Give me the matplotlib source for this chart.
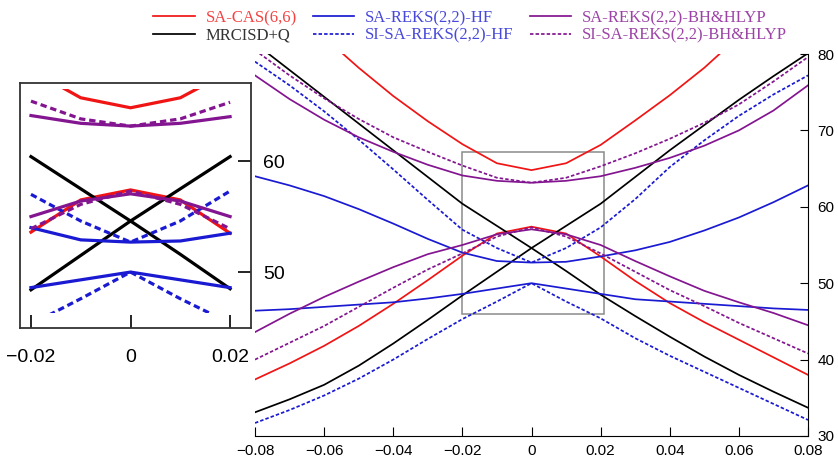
import numpy as np
import matplotlib.pyplot as plt
from matplotlib.patches import Rectangle

plt.rcParams['font.family'] = ['Liberation Sans', 'DejaVu Sans']

# displacement grid
x = [-0.08, -0.07, -0.06, -0.05, -0.04, -0.03, -0.02, -0.01, 0.0,
     0.01, 0.02, 0.03, 0.04, 0.05, 0.06, 0.07, 0.08]

# SA-CAS(6,6)
cas_s1 = [91.0, 86.3, 82.2, 78.2, 74.5, 71.2, 68.2, 65.7, 64.8, 65.7, 68.1, 71.3, 74.6, 78.2, 82.3, 86.5, 91.0]
cas_s0 = [37.4, 39.5, 41.8, 44.4, 47.3, 50.4, 53.6, 56.5, 57.4, 56.5, 53.5, 50.3, 47.4, 44.9, 42.6, 40.3, 38.0]
# MRCISD+Q
mrci_a = [81.4, 77.9, 74.4, 70.9, 67.4, 63.9, 60.4, 57.5, 54.6, 51.6, 48.5, 45.7, 43.0, 40.4, 38.0, 35.8, 33.7]
mrci_b = [33.1, 34.8, 36.7, 39.2, 42.1, 45.2, 48.4, 51.5, 54.6, 57.5, 60.4, 63.9, 67.4, 70.7, 74.0, 77.1, 80.1]
# SA-REKS(2,2)-HF
hf_s1 = [64.0, 62.8, 61.4, 59.7, 57.8, 55.8, 54.0, 52.9, 52.7, 52.8, 53.5, 54.3, 55.4, 56.9, 58.6, 60.6, 62.8]
hf_s0 = [46.4, 46.6, 46.9, 47.2, 47.5, 48.0, 48.6, 49.3, 50.0, 49.3, 48.6, 47.9, 47.6, 47.3, 47.0, 46.7, 46.5]
# SI-SA-REKS(2,2)-HF
si_hf_s1 = [79.0, 75.9, 72.5, 68.8, 64.9, 60.9, 57.0, 54.6, 52.7, 54.6, 57.3, 61.0, 65.2, 68.7, 71.9, 74.7, 77.2]
si_hf_s0 = [31.7, 33.4, 35.3, 37.5, 40.0, 42.7, 45.3, 47.6, 50.0, 47.6, 45.4, 42.8, 40.5, 38.4, 36.3, 34.2, 32.1]
# SA-REKS(2,2)-BH&HLYP
bh_s1 = [77.2, 74.1, 71.4, 69.1, 67.2, 65.5, 64.1, 63.4, 63.15, 63.4, 64.0, 65.1, 66.4, 68.0, 70.0, 72.6, 75.9]
bh_s0 = [43.6, 46.0, 48.2, 50.2, 52.1, 53.8, 55.0, 56.4, 57.05, 56.4, 55.0, 52.9, 50.9, 49.0, 47.5, 46.1, 44.5]
# SI-SA-REKS(2,2)-BH&HLYP
si_bh_s1 = [80.5, 77.2, 74.2, 71.5, 69.1, 67.2, 65.4, 63.8, 63.15, 63.8, 65.3, 67.0, 68.9, 71.0, 73.4, 76.4, 79.6]
si_bh_s0 = [40.0, 42.2, 44.4, 46.9, 49.4, 51.8, 53.9, 56.1, 57.3, 56.1, 53.9, 51.5, 49.1, 47.0, 44.8, 42.8, 40.8]

red = '#f01414'
blue = '#1a1ad2'
purple = '#831590'
black = '#000000'
dash = (0, (2.0, 1.2))

series = [
    ('SA-CAS(6,6)', [cas_s1, cas_s0], red, '-'),
    ('MRCISD+Q', [mrci_a, mrci_b], black, '-'),
    ('SA-REKS(2,2)-HF', [hf_s1, hf_s0], blue, '-'),
    ('SI-SA-REKS(2,2)-HF', [si_hf_s1, si_hf_s0], blue, dash),
    ('SA-REKS(2,2)-BH&HLYP', [bh_s1, bh_s0], purple, '-'),
    ('SI-SA-REKS(2,2)-BH&HLYP', [si_bh_s1, si_bh_s0], purple, dash),
]

xticks = [-0.08, -0.06, -0.04, -0.02, 0, 0.02, 0.04, 0.06, 0.08]
xticklabels = ['\u22120.08', '\u22120.06', '\u22120.04', '\u22120.02', '0', '0.02', '0.04', '0.06', '0.08']
yticks = [30, 40, 50, 60, 70, 80]

inset_x = [-0.02, -0.01, 0.0, 0.01, 0.02]
inset_xticklabels = ['\u22120.02', '0', '0.02']
inset_yticks = [50, 60]
# plot range (clipping) of the inset and the grey box drawn on the main panel
inset_range = (-0.0205, 0.0205, 46.3, 66.5)
zoom_box = (-0.0202, 0.0211, 46.0, 67.2)

fig = plt.figure(figsize=(8.38, 4.62), dpi=100)
ax = fig.add_axes([0.3043, 0.0563, 0.6599, 0.8268])
ax_in = fig.add_axes([0.0239, 0.2900, 0.2756, 0.5303])

# main panel
handles = []
for label, curves, color, ls in series:
    for i, yv in enumerate(curves):
        ln, = ax.plot(x, yv, color=color, ls=ls, lw=1.25)
        if i == 0:
            handles.append(ln)

bx0, bx1, by0, by1 = zoom_box
ax.add_patch(Rectangle((bx0, by0), bx1 - bx0, by1 - by0, fill=False,
                       ec='#8a8a8a', lw=1.1, zorder=1))

ax.set_xlim(-0.08, 0.08)
ax.set_ylim(30, 80)
ax.spines['left'].set_visible(False)
ax.spines['top'].set_visible(False)
ax.yaxis.tick_right()
ax.set_xticks(xticks)
ax.set_xticklabels(xticklabels)
ax.set_yticks(yticks)
ax.tick_params(axis='x', direction='in', length=6.5, pad=6, labelsize=11)
ax.tick_params(axis='y', direction='in', length=6, pad=7, labelsize=11)

# inset
ix0, ix1, iy0, iy1 = inset_range
n0 = x.index(inset_x[0])
n1 = x.index(inset_x[-1]) + 1
for label, curves, color, ls in series:
    for yv in curves:
        ln, = ax_in.plot(inset_x, yv[n0:n1], color=color, ls=ls, lw=2.3)
        clip = Rectangle((ix0, iy0), ix1 - ix0, iy1 - iy0, transform=ax_in.transData)
        ln.set_clip_path(clip)

ax_in.set_xlim(-0.0222, 0.0242)
ax_in.set_ylim(44.96, 67.03)
ax_in.yaxis.tick_right()
ax_in.set_xticks([-0.02, 0, 0.02])
ax_in.set_xticklabels(inset_xticklabels)
ax_in.set_yticks(inset_yticks)
ax_in.tick_params(axis='both', direction='in', length=9.5, width=1.2, labelsize=14)
ax_in.tick_params(axis='x', pad=15)
ax_in.tick_params(axis='y', pad=9)
for sp in ax_in.spines.values():
    sp.set_linewidth(1.3)
    sp.set_color('#333333')

# legend (column-major order)
leg = fig.legend(handles, [s[0] for s in series], ncol=3, loc='center',
                 bbox_to_anchor=(0.561, 0.942), frameon=False, borderpad=0,
                 prop={'family': 'Liberation Serif', 'size': 12},
                 handlelength=2.5, handletextpad=0.65, columnspacing=0.95,
                 labelspacing=0.1)
for txt, s in zip(leg.get_texts(), series):
    txt.set_color(s[2])
    txt.set_alpha(0.8)

fig.savefig('out.png', dpi=100)
